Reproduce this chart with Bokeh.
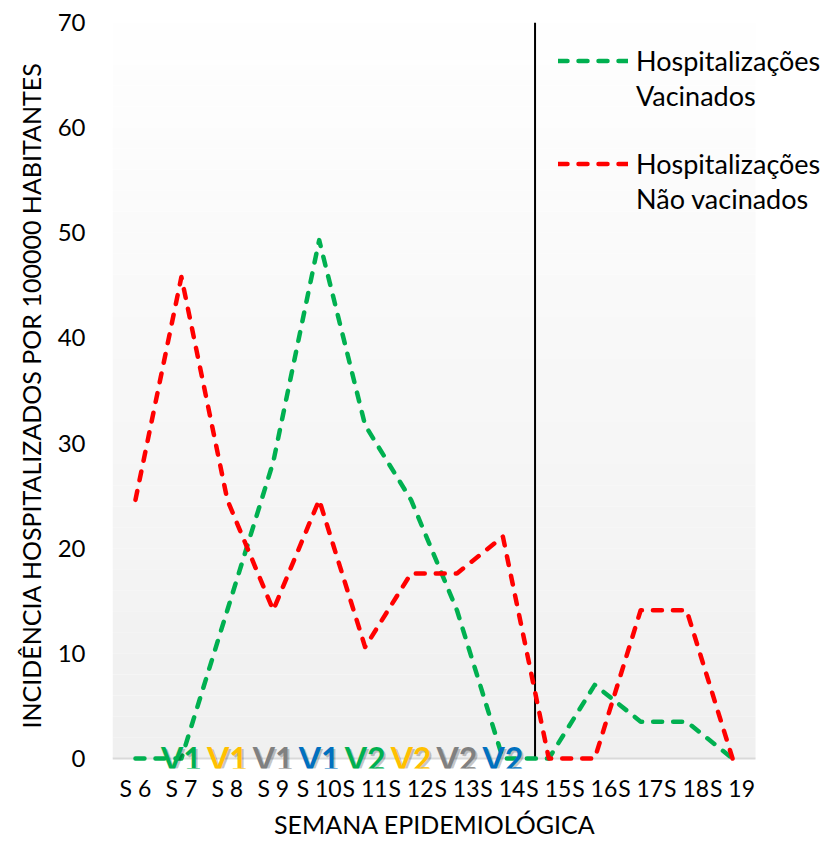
import numpy as np
from bokeh.plotting import figure
from bokeh.models import Range1d, Legend, LegendItem, FixedTicker, BoxAnnotation, Title
from bokeh.core.properties import value
from bokeh.embed import file_html
from bokeh.resources import INLINE

# ---------------- data ----------------
weeks = ["S 6", "S 7", "S 8", "S 9", "S 10", "S 11", "S 12",
         "S 13", "S 14", "S 15", "S 16", "S 17", "S 18", "S 19"]
vacinados = [0, 0, 14.1, 28.2, 49.3, 31.7, 24.6, 14.1, 0, 0, 7.0, 3.5, 3.5, 0]
nao_vacinados = [24.6, 45.8, 24.6, 14.1, 24.6, 10.6, 17.6, 17.6, 21.1, 0, 0, 14.1, 14.1, 0]

dose_weeks = ["S 7", "S 8", "S 9", "S 10", "S 11", "S 12", "S 13", "S 14"]
dose_labels = ["V1", "V1", "V1", "V1", "V2", "V2", "V2", "V2"]
dose_colors = ["#00B050", "#FFC000", "#808080", "#0070C0",
               "#00B050", "#FFC000", "#808080", "#0070C0"]

y_ticks = [0, 10, 20, 30, 40, 50, 60, 70]
divider_after_week = "S 14"
divider_fraction = 0.7   # fraction of the way from S 14 to S 15

FONT = "Lato"

# ---------------- layout ----------------
x_pos = list(range(len(weeks)))
dose_x = [weeks.index(w) for w in dose_weeks]
dose_y = [0] * len(dose_weeks)

left_border = 112
plot_w = 643                     # width of the shaded plot area (px)
px_per_week = plot_w / len(weeks)
frame_w = 709                    # frame extends right so the legend is not clipped
x_start = -0.5
x_last = len(weeks) - 0.5
x_end = x_start + frame_w / px_per_week
y_top = 70
y_bottom = -0.95                 # a little room under 0 for the V1/V2 labels

p = figure(x_range=Range1d(x_start, x_end), y_range=Range1d(y_bottom, y_top),
           frame_width=frame_w, frame_height=746,
           min_border_left=left_border, min_border_right=0,
           min_border_top=22, min_border_bottom=73,
           output_backend="svg", toolbar_location=None,
           background_fill_color="#ffffff", border_fill_color="#ffffff")
p.outline_line_color = None
p.xgrid.grid_line_color = None
p.ygrid.grid_line_color = None

# gradient background of the plot area (style only)
n_bands = 35
top_c = np.array([255, 255, 255])
bot_c = np.array([240, 240, 240])
for i in range(n_bands):
    t = (i + 0.5) / n_bands
    c = (bot_c + (top_c - bot_c) * t).astype(int)
    p.add_layout(BoxAnnotation(left=x_start, right=x_last,
                               bottom=y_top * i / n_bands, top=y_top * (i + 1) / n_bands,
                               fill_color="#%02x%02x%02x" % tuple(c), fill_alpha=1,
                               line_color=None, level="underlay"))

# category axis line at 0
p.segment(x0=[x_start], y0=[0], x1=[x_last], y1=[0],
          line_color="#d9d9d9", line_width=2)

# divider line
div_x = weeks.index(divider_after_week) + divider_fraction
p.segment(x0=[div_x], y0=[0], x1=[div_x], y1=[y_top],
          line_color="#000000", line_width=2)

g = p.line(x_pos, vacinados, line_color="#00B050", line_width=4.5,
           line_dash="9 11", line_cap="round", line_join="round")
r = p.line(x_pos, nao_vacinados, line_color="#FF0000", line_width=4.5,
           line_dash="9 11", line_cap="round", line_join="round")
blank = p.line(x=[], y=[], line_alpha=0)

# dose labels (shadow + text)
p.text(x=dose_x, y=dose_y, text=dose_labels, text_color="#000000",
       text_alpha=0.22, x_offset=2, y_offset=2,
       text_font=value(FONT), text_font_style="bold", text_font_size="32px",
       text_align="center", text_baseline="middle")
p.text(x=dose_x, y=dose_y, text=dose_labels, text_color=dose_colors,
       text_font=value(FONT), text_font_style="bold", text_font_size="32px",
       text_align="center", text_baseline="middle")

# axes
xa = p.xaxis[0]
xa.ticker = FixedTicker(ticks=x_pos)
xa.major_label_overrides = {i: w for i, w in zip(x_pos, weeks)}
xa.axis_line_color = None
xa.major_tick_line_color = None
xa.minor_tick_line_color = None
xa.major_tick_out = 0
xa.major_tick_in = 0
xa.major_label_text_font = FONT
xa.major_label_text_font_size = "23px"
xa.major_label_text_color = "#000000"
xa.major_label_standoff = 5

# x-axis title, centred under the shaded plot area (not the wider frame)
x_title_text = "SEMANA EPIDEMIOLÓGICA"
x_title_width = 320
p.add_layout(Title(text=x_title_text, align="left",
                   offset=plot_w / 2 - x_title_width / 2,
                   text_font=FONT, text_font_size="25px", text_font_style="normal",
                   text_color="#000000", standoff=4), "below")

ya = p.yaxis[0]
ya.ticker = FixedTicker(ticks=y_ticks)
ya.axis_line_color = None
ya.major_tick_line_color = None
ya.minor_tick_line_color = None
ya.major_tick_out = 0
ya.major_tick_in = 0
ya.major_label_text_font = FONT
ya.major_label_text_font_size = "24px"
ya.major_label_text_color = "#000000"
ya.major_label_standoff = 27
ya.axis_label = "INCIDÊNCIA HOSPITALIZADOS POR 100000 HABITANTES"
ya.axis_label_text_font = FONT
ya.axis_label_text_font_style = "normal"
ya.axis_label_text_font_size = "25px"
ya.axis_label_text_color = "#000000"
ya.axis_label_standoff = 9

legend_style = dict(orientation="vertical", glyph_width=70, glyph_height=35,
                    label_height=35, label_standoff=8, spacing=0,
                    padding=0, margin=0, border_line_color=None,
                    background_fill_alpha=0, label_text_font=FONT,
                    label_text_font_size="27px", label_text_color="#000000")
leg1 = Legend(items=[LegendItem(label="Hospitalizações", renderers=[g]),
                     LegendItem(label="Vacinados", renderers=[blank])],
              location=(446, 655), **legend_style)
leg2 = Legend(items=[LegendItem(label="Hospitalizações", renderers=[r]),
                     LegendItem(label="Não vacinados", renderers=[blank])],
              location=(446, 552), **legend_style)
p.add_layout(leg1)
p.add_layout(leg2)

open("out.html", "w").write(file_html(p, INLINE))
